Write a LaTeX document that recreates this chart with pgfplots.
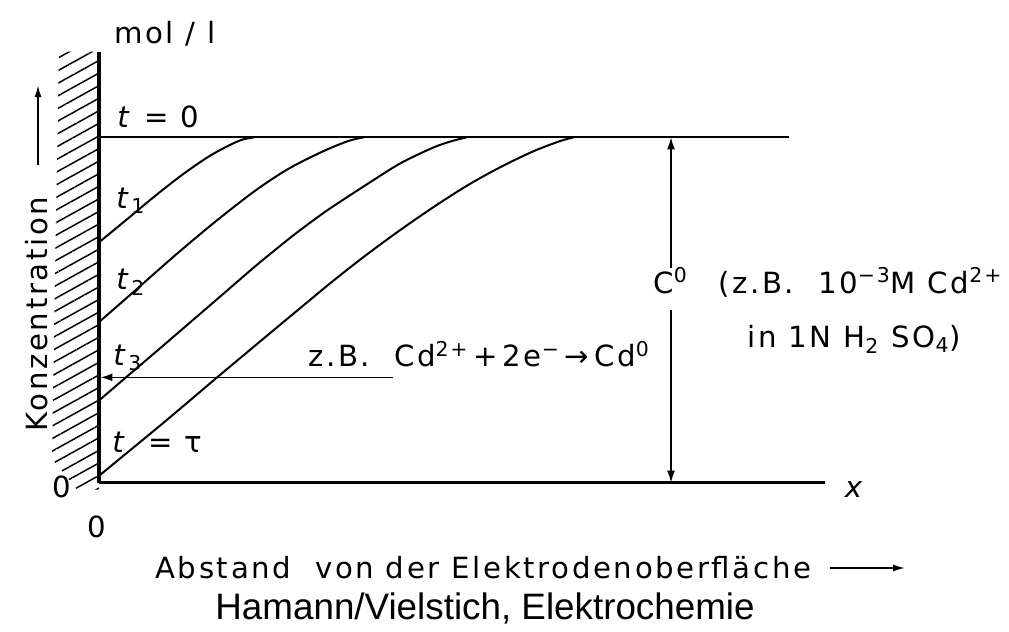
\documentclass[border=0pt]{standalone}
\usepackage{fontspec}
\setmainfont{DejaVu Sans}
\newfontfamily\din[LetterSpace=9]{DejaVu Sans}
\newfontfamily\capfont{Liberation Sans}
\usepackage{pgfplots}
\pgfplotsset{compat=1.18}
\usetikzlibrary{patterns.meta,arrows.meta}

% concentration profiles c/c0 against distance (1 unit = 1 px of the scan)
\pgfplotstableread{
x y
0 0.696
29 0.765
56 0.830
83 0.891
109 0.943
129 0.975
143 0.993
155 1
}\tone
\pgfplotstableread{
x y
0 0.465
36 0.556
76 0.658
116 0.755
156 0.845
189 0.908
223 0.958
249 0.989
265 1
}\ttwo
\pgfplotstableread{
x y
0 0.238
29 0.310
63 0.394
116 0.526
156 0.626
183 0.690
201 0.731
229 0.790
268 0.864
301 0.924
334 0.970
354 0.990
368 1
}\tthree
\pgfplotstableread{
x y
0 0.020
63 0.170
119 0.307
169 0.428
201 0.505
234 0.584
268 0.661
301 0.731
334 0.797
368 0.860
401 0.913
434 0.959
461 0.989
475 1
}\ttau

\begin{document}
\begin{tikzpicture}[lbl/.style={font=\din\fontsize{14.6}{17}\selectfont, inner sep=0pt}]
\begin{axis}[
  x=0.5pt, y=172.7pt,
  xmin=0, xmax=726, ymin=0, ymax=1.248,
  axis lines=left,
  x axis line style={-, line width=1.8pt},
  y axis line style={-, line width=2.1pt},
  xtick=\empty, ytick=\empty,
  clip=false,
]
% electrode wall
\fill[pattern={Lines[angle=29, distance=5.5pt, line width=0.75pt]}]
  (axis cs:-40,1.248) -- (axis cs:0,1.248) -- (axis cs:0,-0.02)
  -- (axis cs:-22,-0.02) -- (axis cs:-47,0.07) -- (axis cs:-44,0.6) -- cycle;

\addplot[black, line width=1pt] coordinates {(0,1) (690,1)};
\addplot[black, line width=1pt, smooth, tension=0.5] table {\tone};
\addplot[black, line width=1pt, smooth, tension=0.5] table {\ttwo};
\addplot[black, line width=1pt, smooth, tension=0.5] table {\tthree};
\addplot[black, line width=1pt, smooth, tension=0.5] table {\ttau};

% arrows
\draw[line width=0.8pt, -{Latex[length=6pt,width=4pt]}] (axis cs:572,0.621) -- (axis cs:572,1);
\draw[line width=0.8pt, -{Latex[length=6pt,width=4pt]}] (axis cs:572,0.499) -- (axis cs:572,0);
\draw[line width=0.8pt, -{Latex[length=6pt,width=4pt]}] (axis cs:294,0.305) -- (axis cs:1.5,0.305);
\draw[line width=0.8pt, -{Latex[length=6pt,width=3.5pt]}] (axis cs:-61,0.919) -- (axis cs:-61,1.151);
\draw[line width=0.8pt, -{Latex[length=6pt,width=3.5pt]}] (axis cs:731,-0.247) -- (axis cs:806,-0.247);

% labels
\node[lbl, anchor=base west] at (axis cs:15,1.273) {mol / l};
\node[lbl, anchor=base west] at (axis cs:18,1.027) {\textit{t} = 0};
\node[lbl, anchor=base west] at (axis cs:17,0.795) {\textit{t}\textsubscript{1}};
\node[lbl, anchor=base west] at (axis cs:17,0.558) {\textit{t}\textsubscript{2}};
\node[lbl, anchor=base west] at (axis cs:14,0.340) {\textit{t}\textsubscript{3}};
\node[lbl, anchor=base west] at (axis cs:13,0.088) {\textit{t}};
\node[lbl, anchor=base west] at (axis cs:49,0.088) {= τ};
\node[lbl, anchor=base west, rotate=90] at (axis cs:-51,0.147) {Konzentration};
\node[lbl] at (axis cs:-37,-0.012) {0};
\node[lbl] at (axis cs:-2,-0.128) {0};
\node[lbl] at (axis cs:756,-0.021) {\textit{x}};
\node[lbl, anchor=base west] at (axis cs:209,0.335)
  {z.B.\ \ Cd\textsuperscript{2+}\,+\,2e\textsuperscript{−}\,→\,Cd\textsuperscript{0}};
\node[lbl, anchor=base west] at (axis cs:554,0.549) {C\textsuperscript{0}};
\node[lbl, anchor=base west] at (axis cs:619,0.549) {(z.B.\ \ 10\textsuperscript{−3}M Cd\textsuperscript{2+}};
\node[lbl, anchor=base west] at (axis cs:648,0.390) {in 1N H\textsubscript{2} SO\textsubscript{4})};
\node[lbl, anchor=base west] at (axis cs:56,-0.276) {Abstand\ \ von der Elektrodenoberfläche};
\node[font=\capfont\fontsize{18.4}{22}\selectfont, inner sep=0pt, anchor=base west]
  at (axis cs:116,-0.396) {Hamann/Vielstich, Elektrochemie};

\coordinate (bl) at (axis cs:-99,-0.4294);
\coordinate (tr) at (axis cs:910,1.3975);
\end{axis}
\pgfresetboundingbox
\path[use as bounding box] (bl) rectangle (tr);
\end{tikzpicture}
\end{document}
